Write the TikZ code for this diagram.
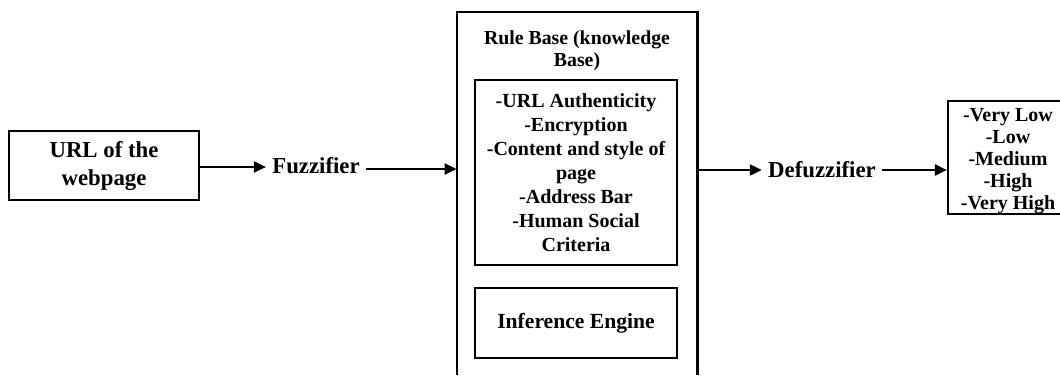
\documentclass[tikz,border=0pt]{standalone}
\usepackage{fontspec}
\setmainfont{Liberation Serif}
\usetikzlibrary{arrows.meta}
\usetikzlibrary{calc,positioning}

\tikzset{
	caja/.style={draw, line width=1.1pt, align=center, font=\bfseries, inner sep=0pt},
	texto/.style={align=center, font=\bfseries, inner sep=3pt},
	flecha/.style={line width=1.1pt, -{Triangle[length=6pt,width=5.5pt]}}
}

\begin{document}
\begin{tikzpicture}[x=0.5pt,y=-0.5pt]
	\useasboundingbox (0,0) rectangle (1060,375);

% entrada
	\node[caja, minimum width=95pt, minimum height=34.5pt,
		font=\fontsize{11.4}{14}\selectfont\bfseries] (url) at (104,165.5) {URL of the\\webpage};
	\node[texto, font=\fontsize{11.4}{14}\selectfont\bfseries] (fuzz) at (316,166) {Fuzzifier};

% base de reglas
	\node[minimum width=120pt, minimum height=181.5pt, inner sep=0pt] (kb) at (577,193.5) {};
	\draw[line width=1.1pt] (kb.south west) |- (kb.north east) -- (kb.south east);
	\node[texto, font=\fontsize{9.9}{11}\selectfont\bfseries] (titulo) at (577,51) {Rule Base (knowledge\\Base)};
	\node[caja, minimum width=101pt, minimum height=92.5pt,
		font=\fontsize{10}{12}\selectfont\bfseries] (reglas) at (576,172.5)
		{-URL Authenticity\\-Encryption\\-Content and style of\\page\\-Address Bar\\-Human Social\\Criteria};
	\node[caja, minimum width=101pt, minimum height=35pt,
		font=\fontsize{10.8}{13}\selectfont\bfseries] (motor) at (576,323) {Inference Engine};

% salida
	\node[texto, font=\fontsize{11.4}{14}\selectfont\bfseries] (defuzz) at (822,170) {Defuzzifier};
	\node[caja, minimum width=60pt, minimum height=56.5pt] (salida) at (1008,157.5) {};
	\node[texto, font=\fontsize{10}{11}\selectfont\bfseries] (niveles) at (1008,161.5)
		{-Very Low\\-Low\\-Medium\\-High\\-Very High};

% flechas
	\draw[flecha] (url.east |- 0,167) -- (fuzz.west |- 0,167);
	\draw[flecha] (fuzz.east |- 0,169) -- (kb.west |- 0,169);
	\draw[flecha] (kb.east |- defuzz) -- (defuzz.west);
	\draw[flecha] (defuzz.east) -- (salida.west |- defuzz);
\end{tikzpicture}
\end{document}
